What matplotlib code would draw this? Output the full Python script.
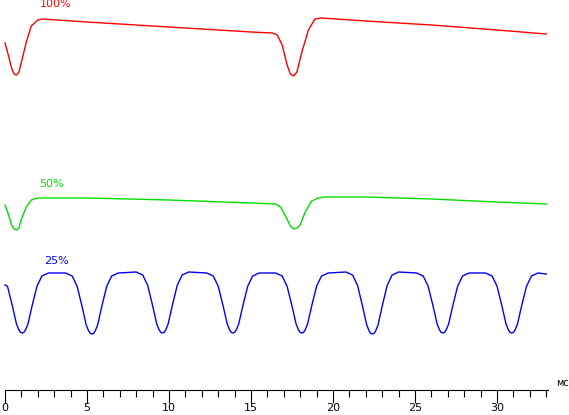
import numpy as np
import matplotlib
matplotlib.use("Agg")
import matplotlib.pyplot as plt

# Red trace (100%) keypoints: time ms, screen level (px from top)
red_t = [0.0, 0.2, 0.4, 0.55, 0.7, 0.85, 1.0, 1.3, 1.6, 2.0, 2.3, 5, 10, 15, 16.3, 16.6, 16.9, 17.2, 17.4, 17.6, 17.8, 18.1, 18.5, 18.9, 19.3, 22, 26, 30, 33.0]
red_y = [43, 55, 68, 74, 75, 72, 62, 42, 26, 20, 19, 22, 27, 32, 33, 35, 45, 65, 74, 76, 72, 52, 30, 19, 18, 21, 25, 30, 34]

green_t = [0.0, 0.2, 0.4, 0.55, 0.7, 0.85, 1.0, 1.3, 1.6, 2.0, 2.4, 5, 10, 15, 16.5, 16.8, 17.1, 17.4, 17.6, 17.8, 18.0, 18.3, 18.7, 19.1, 19.5, 22, 26, 30, 33.0]
green_y = [205, 214, 225, 229, 230, 228, 219, 207, 200, 198, 198, 198, 200, 203, 204, 207, 216, 226, 229, 228, 225, 212, 201, 198, 197, 197, 199, 202, 204]

blue_min = [1.05, 5.3, 9.6, 13.9, 18.1, 22.4, 26.7, 30.9]
blue_top = [273, 273, 272, 273, 273, 272, 273, 273]
blue_bot = [333, 334, 333, 333, 333, 334, 333, 333]
shape_dt = [-1.6, -1.2, -0.9, -0.6, -0.35, -0.2, -0.1, 0.0, 0.1, 0.2, 0.35, 0.6, 0.9, 1.2, 1.6]
shape_f = [0.0, 0.05, 0.22, 0.55, 0.85, 0.95, 0.99, 1.0, 0.99, 0.95, 0.85, 0.55, 0.22, 0.05, 0.0]

labels = ["100%", "50%", "25%"]
label_pos = [(2.1, 4), (2.1, 184), (2.4, 261)]
colors = ["#ff0000", "#00e000", "#0000ff"]

fig = plt.figure(figsize=(5.69, 4.15), dpi=100)
ax = fig.add_axes([0, 0, 1, 1])
ax.set_xlim(-5 / 16.4, 564 / 16.4)
ax.set_ylim(415, 0)

ax.plot(red_t, red_y, color=colors[0], lw=1)
ax.plot(green_t, green_y, color=colors[1], lw=1)
bt, by = [0.0], [285]
for m, top, bot in zip(blue_min, blue_top, blue_bot):
    for dt, f in zip(shape_dt, shape_f):
        t = m + dt
        if 0 < t <= 33:
            bt.append(t); by.append(top + f * (bot - top))
bt.append(33.0); by.append(274)
ax.plot(bt, by, color=colors[2], lw=1)

for lab, (x, y), c in zip(labels, label_pos, colors):
    ax.text(x, y, lab, color=c, fontsize=8, ha="left", va="center")

for s in ["top", "left", "right"]:
    ax.spines[s].set_visible(False)
ax.spines["bottom"].set_position(("data", 390))
ax.spines["bottom"].set_bounds(0, 33.1)
ax.spines["bottom"].set_linewidth(0.8)
ax.set_yticks([])
ax.set_xticks(range(0, 31, 5))
ax.set_xticks(range(0, 34), minor=True)
ax.tick_params(axis="x", which="major", direction="out", length=9, width=0.8, labelsize=8, pad=0)
ax.tick_params(axis="x", which="minor", direction="out", length=5, width=0.8)
ax.text(33.6, 383, "мс", fontsize=7, ha="left", va="center")

fig.savefig("out.png", dpi=100)
